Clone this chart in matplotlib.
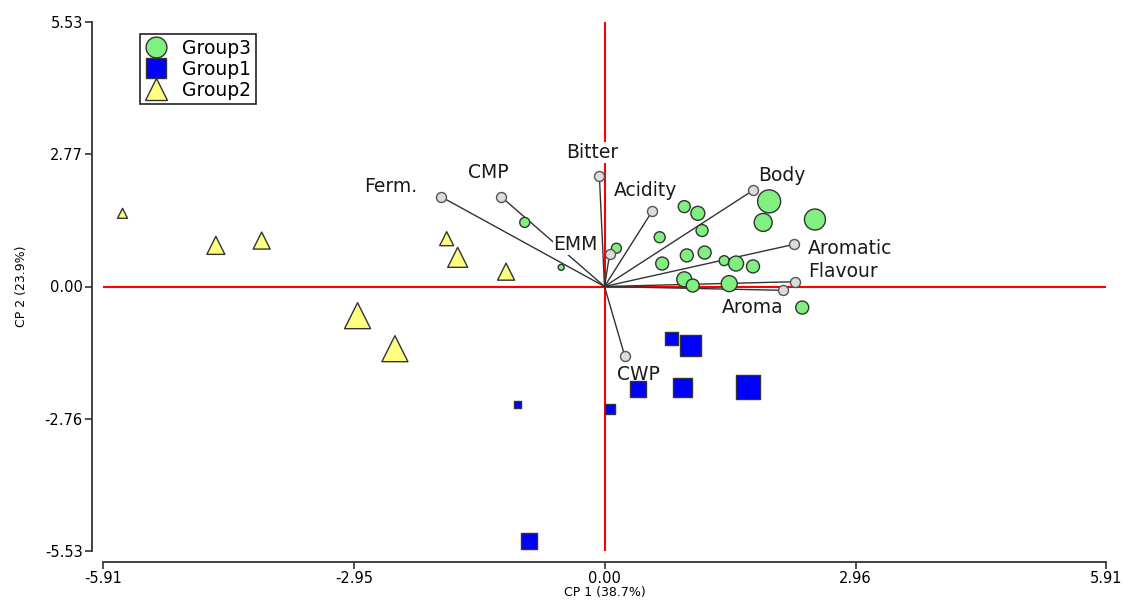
import matplotlib.pyplot as plt
from matplotlib.lines import Line2D

# sample scores on the first two components, with bubble magnitude
g3_x = [1.94, 1.87, 2.48, 0.94, 1.10, 1.15, 0.65, 0.68, 0.97, 1.18, 1.41, 1.55,
        1.75, 0.94, 1.04, 1.47, 2.33, -0.94, -0.51, 0.14]
g3_y = [1.78, 1.34, 1.40, 1.67, 1.53, 1.17, 1.03, 0.48, 0.65, 0.71, 0.54, 0.48,
        0.42, 0.15, 0.02, 0.06, -0.44, 1.34, 0.40, 0.80]
g3_w = [23, 18, 21, 12, 14, 12, 11, 13, 13, 13, 10, 15, 13, 15, 13, 16, 13, 10, 6, 10]

g1_x = [0.79, 1.01, 0.40, 0.92, 1.69, 0.06, -1.02, -0.89]
g1_y = [-1.09, -1.23, -2.15, -2.11, -2.11, -2.57, -2.47, -5.33]
g1_w = [13, 21, 16, 19, 24, 10, 7, 16]

g2_x = [-5.68, -4.58, -4.04, -1.86, -1.73, -1.16, -2.91, -2.47]
g2_y = [1.53, 0.86, 0.96, 1.00, 0.61, 0.31, -0.61, -1.30]
g2_w = [10, 18, 17, 14, 20, 17, 26, 26]

# variable loadings (arrow tips)
var_names = ["Ferm.", "CMP", "Bitter", "Acidity", "EMM", "Body",
             "Aromatic", "Flavour", "Aroma", "CWP"]
var_x = [-1.93, -1.22, -0.06, 0.56, 0.06, 1.75, 2.23, 2.24, 2.10, 0.24]
var_y = [1.88, 1.88, 2.30, 1.57, 0.67, 2.01, 0.88, 0.10, -0.08, -1.46]
# where each name is written
lab_x = [-2.52, -1.37, -0.15, 0.48, -0.34, 2.09, 2.40, 2.40, 1.75, 0.40]
lab_y = [2.09, 2.38, 2.80, 2.01, 0.88, 2.32, 0.79, 0.31, -0.44, -1.84]
lab_ha = ["center", "center", "center", "center", "center", "center",
          "left", "left", "center", "center"]

xticks = [-5.91, -2.95, 0.00, 2.96, 5.91]
yticks = [-5.53, -2.76, 0.00, 2.77, 5.53]

PX = 0.72  # points per pixel at 100 dpi

fig = plt.figure(figsize=(11.38, 6.01), dpi=100)
ax = fig.add_axes([103 / 1138, 50 / 601, 1003 / 1138, 529 / 601])

ax.axhline(0, color="#ff0000", lw=1.5, zorder=1)
ax.axvline(0, color="#ff0000", lw=1.5, zorder=1)

for vx, vy in zip(var_x, var_y):
    ax.plot([0, vx], [0, vy], color="#333333", lw=1.0, zorder=2)
ax.scatter(var_x, var_y, s=(10 * PX) ** 2, facecolor="#dcdcdc",
           edgecolor="#555555", lw=1.0, zorder=5)

for name, x, y, ha in zip(var_names, lab_x, lab_y, lab_ha):
    ax.text(x, y, name, ha=ha, va="center", fontsize=13.5, color="#1a1a1a",
            bbox=dict(facecolor="white", edgecolor="none", pad=0.5), zorder=3)

ax.scatter(g3_x, g3_y, s=[(w * PX) ** 2 for w in g3_w], marker="o",
           facecolor="#80f080", edgecolor="#333333", lw=1.0, zorder=4)
ax.scatter(g1_x, g1_y, s=[(w * PX) ** 2 for w in g1_w], marker="s",
           facecolor="#0000ff", edgecolor="#333333", lw=1.0, zorder=4)
ax.scatter(g2_x, g2_y, s=[(w * PX) ** 2 for w in g2_w], marker="^",
           facecolor="#ffff80", edgecolor="#333333", lw=1.0, zorder=4)

ax.set_xlim(-5.91, 5.91)
ax.set_ylim(-5.53, 5.53)
ax.set_xticks(xticks)
ax.set_yticks(yticks)
ax.set_xticklabels([f"{v:.2f}" for v in xticks])
ax.set_yticklabels([f"{v:.2f}" for v in yticks])
ax.tick_params(labelsize=10.5, length=5, width=1.2, color="#333333", pad=1.5)

for side in ["top", "right"]:
    ax.spines[side].set_visible(False)
for side in ["left", "bottom"]:
    ax.spines[side].set_position(("outward", 8))
    ax.spines[side].set_linewidth(1.3)
    ax.spines[side].set_color("#333333")

ax.set_xlabel("CP 1 (38.7%)", fontsize=9, labelpad=0)
ax.set_ylabel("CP 2 (23.9%)", fontsize=9, labelpad=12)

handles = [
    Line2D([], [], ls="none", marker="o", ms=15, mfc="#80f080", mec="#333333"),
    Line2D([], [], ls="none", marker="s", ms=15, mfc="#0000ff", mec="#333333"),
    Line2D([], [], ls="none", marker="^", ms=16, mfc="#ffff80", mec="#333333"),
]
leg = ax.legend(handles, ["Group3", "Group1", "Group2"], loc="upper left",
                bbox_to_anchor=(0.037, 0.977), borderaxespad=0, fontsize=13.5,
                fancybox=False, edgecolor="#222222", framealpha=1,
                handlelength=1.2, handletextpad=0.8, borderpad=0.25,
                labelspacing=0.1)
leg.get_frame().set_linewidth(1.2)

fig.savefig("out.png", dpi=100)
